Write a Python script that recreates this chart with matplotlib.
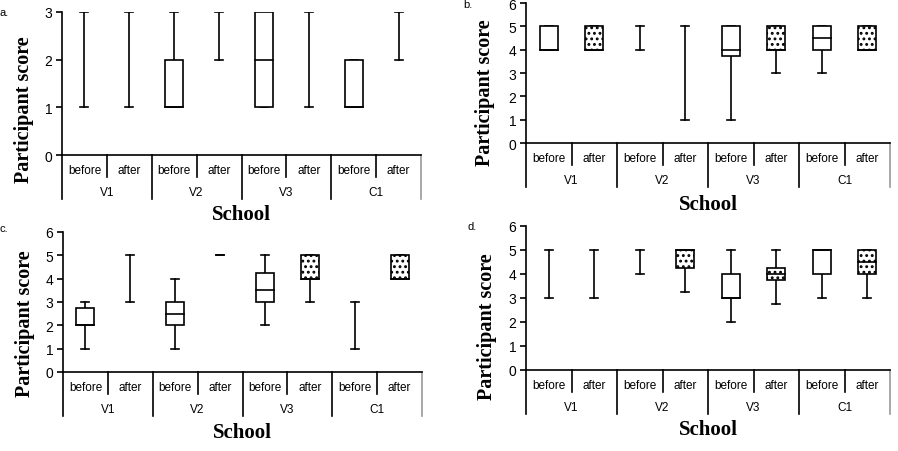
import matplotlib.pyplot as plt
import numpy as np
from matplotlib.patches import Rectangle

plt.rcParams.update({'font.family': 'Liberation Sans', 'font.size': 9,
                     'hatch.linewidth': 1.3})

nan = np.nan
schools = ['V1', 'V2', 'V3', 'C1']
phases = ['before', 'after']

# a. (order: V1 before, V1 after, V2 before, ... C1 after)
a_lo = [1, 1, 1, 2, 1, 1, 1, 2]
a_q1 = [nan, nan, 1, nan, 1, nan, 1, nan]
a_med = [nan, nan, 1, nan, 2, nan, 1, nan]
a_q3 = [nan, nan, 2, nan, 3, nan, 2, nan]
a_hi = [3, 3, 3, 3, 3, 3, 2, 3]
a_dot = [0, 0, 0, 0, 0, 0, 0, 0]

# b.
b_lo = [4, 4, 4, 1, 1, 3, 3, 4]
b_q1 = [4, 4, nan, nan, 3.75, 4, 4, 4]
b_med = [4, 4, nan, nan, 4, 4, 4.5, 4]
b_q3 = [5, 5, nan, nan, 5, 5, 5, 5]
b_hi = [5, 5, 5, 5, 5, 5, 5, 5]
b_dot = [0, 1, 0, 0, 0, 1, 0, 1]

# c.
c_lo = [1, 3, 1, 5, 2, 3, 1, 4]
c_q1 = [2, nan, 2, nan, 3, 4, nan, 4]
c_med = [2, nan, 2.5, nan, 3.5, 4, nan, 4]
c_q3 = [2.75, nan, 3, nan, 4.25, 5, nan, 5]
c_hi = [3, 5, 4, 5, 5, 5, 3, 5]
c_dot = [0, 0, 0, 0, 0, 1, 0, 1]

# d.
d_lo = [3, 3, 4, 3.25, 2, 2.75, 3, 3]
d_q1 = [nan, nan, nan, 4.25, 3, 3.75, 4, 4]
d_med = [nan, nan, nan, 5, 3, 4, 5, 4.5]
d_q3 = [nan, nan, nan, 5, 4, 4.25, 5, 5]
d_hi = [5, 5, 5, 5, 5, 5, 5, 5]
d_dot = [0, 0, 0, 1, 0, 1, 0, 1]

W, H = 898, 452
lw = 1.2
bw = 0.4   # box width (slot units)
cw = 0.18  # cap width

fig = plt.figure(figsize=(W / 100, H / 100), dpi=100)


def draw_panel(rect, lo, q1, med, q3, hi, dot, ymax, letter, letter_xy, ylab_xy, school_y):
    ax = fig.add_axes(rect)
    x = np.arange(len(lo)) + 0.5
    for i in range(len(lo)):
        xi = x[i]
        if np.isnan(q1[i]):
            ax.plot([xi, xi], [lo[i], hi[i]], color='k', lw=lw)
        else:
            ax.plot([xi, xi], [lo[i], q1[i]], color='k', lw=lw)
            ax.plot([xi, xi], [q3[i], hi[i]], color='k', lw=lw)
            ax.add_patch(Rectangle((xi - bw / 2, q1[i]), bw, q3[i] - q1[i],
                                   facecolor='white', edgecolor='k', lw=lw,
                                   hatch='...' if dot[i] else None, zorder=3))
            ax.plot([xi - bw / 2, xi + bw / 2], [med[i], med[i]], color='k', lw=lw, zorder=4)
        for v in (lo[i], hi[i]):
            ax.plot([xi - cw / 2, xi + cw / 2], [v, v], color='k', lw=lw)

    ax.set_xlim(0, 8)
    ax.set_ylim(0, ymax)
    ax.set_yticks(range(ymax + 1))
    ax.set_xticks([])
    for s in ('top', 'right'):
        ax.spines[s].set_visible(False)
    for s in ('left', 'bottom'):
        ax.spines[s].set_linewidth(lw)
    ax.tick_params(axis='y', length=4, width=lw, pad=3, labelsize=10)

    # category table below the axis
    hpx = rect[3] * H
    tr = ax.get_xaxis_transform()

    def f(px):
        return -px / hpx

    for k in range(8):
        if k % 2 == 1:
            ax.plot([k, k], [0, f(22)], transform=tr, color='k', lw=lw, clip_on=False)
        else:
            ax.plot([k, k], [0, f(44)], transform=tr, color='k', lw=lw, clip_on=False)
    ax.plot([8, 8], [0, f(44)], transform=tr, color='#999999', lw=lw, clip_on=False)
    for k in range(8):
        ax.text(k + 0.5, f(15), phases[k % 2], transform=tr, ha='center', va='center', fontsize=8.5)
    for g, name in enumerate(schools):
        ax.text(2 * g + 1, f(37), name, transform=tr, ha='center', va='center', fontsize=8.5)

    cx = (rect[0] + rect[2] / 2)
    fig.text(cx, 1 - school_y / H, 'School', ha='center', va='center',
             family='Liberation Serif', weight='bold', fontsize=15)
    fig.text(ylab_xy[0] / W, 1 - ylab_xy[1] / H, 'Participant score', rotation=90,
             ha='center', va='center', family='Liberation Serif', weight='bold', fontsize=14.5)
    fig.text(letter_xy[0] / W, 1 - letter_xy[1] / H, letter, ha='left', va='center', fontsize=8)
    return ax


draw_panel([62 / W, 1 - 156 / H, 359 / W, 143 / H], a_lo, a_q1, a_med, a_q3, a_hi, a_dot,
           3, 'a.', (0, 13), (24, 110), 215)
draw_panel([526 / W, 1 - 144 / H, 364 / W, 140 / H], b_lo, b_q1, b_med, b_q3, b_hi, b_dot,
           6, 'b.', (463, 5), (485, 93), 205)
draw_panel([63 / W, 1 - 373 / H, 359 / W, 140 / H], c_lo, c_q1, c_med, c_q3, c_hi, c_dot,
           6, 'c.', (0, 229), (25, 324), 433)
draw_panel([526 / W, 1 - 371 / H, 364 / W, 144 / H], d_lo, d_q1, d_med, d_q3, d_hi, d_dot,
           6, 'd.', (468, 227), (487, 327), 430)

fig.savefig('out.png', dpi=100)
